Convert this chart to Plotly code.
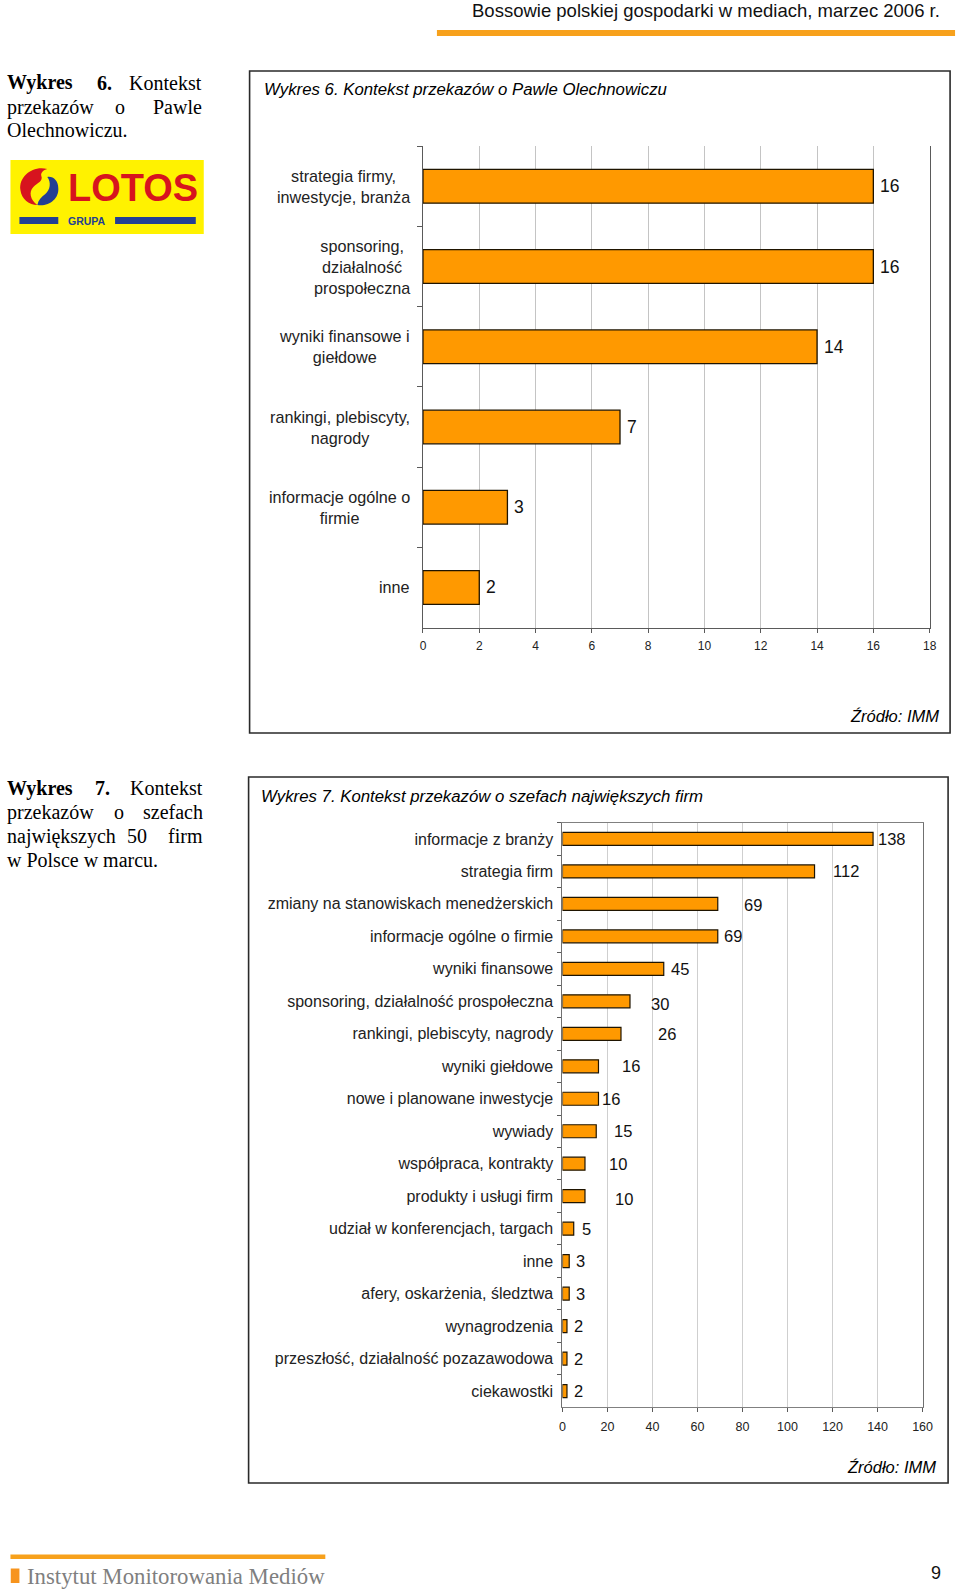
import plotly.graph_objects as go

W, H = 960, 1593


def X(px):
    # small horizontal calibration so that page positions match the reference
    return (px + 3 + 0.0101 * (px - 249)) / W


def Y(py):
    return 1 - py / H


def pt(x, y):
    return f"{X(x):.5f},{Y(y):.5f}"


# ---------------- data ----------------
cat1 = ["strategia firmy,<br>inwestycje, branża",
        "sponsoring,<br>działalność<br>prospołeczna",
        "wyniki finansowe i<br>giełdowe",
        "rankingi, plebiscyty,<br>nagrody",
        "informacje ogólne o<br>firmie",
        "inne"]
val1 = [16, 16, 14, 7, 3, 2]
x1_ticks = [0, 2, 4, 6, 8, 10, 12, 14, 16, 18]

cat2 = ["informacje z branży",
        "strategia firm",
        "zmiany na stanowiskach menedżerskich",
        "informacje ogólne o firmie",
        "wyniki finansowe",
        "sponsoring, działalność prospołeczna",
        "rankingi, plebiscyty, nagrody",
        "wyniki giełdowe",
        "nowe i planowane inwestycje",
        "wywiady",
        "współpraca, kontrakty",
        "produkty i usługi firm",
        "udział w konferencjach, targach",
        "inne",
        "afery, oskarżenia, śledztwa",
        "wynagrodzenia",
        "przeszłość, działalność pozazawodowa",
        "ciekawostki"]
val2 = [138, 112, 69, 69, 45, 30, 26, 16, 16, 15, 10, 10, 5, 3, 3, 2, 2, 2]
x2_ticks = [0, 20, 40, 60, 80, 100, 120, 140, 160]
# label offsets (pixels) mimicking the original placement of data labels
lbl_dx2 = [3, 16, 24, 4, 5, 19, 35, 22, 2, 16, 22, 28, 6, 5, 5, 5, 5, 5]
lbl_dy2 = [0, 0, -1, 0, 0, -3, 0, 0, 0, 0, 0, -3, 0, 0, 0, 0, 0, 0]

# ---------------- styles ----------------
SANS = "Liberation Sans, Arial, sans-serif"
SERIF = "Liberation Serif, Times New Roman, serif"
ORANGE = "#FF9900"
EDGE = "#1f1400"
LINE_OR = "#F7A11C"
AXC = "#5a5a5a"

fig = go.Figure()
fig.add_trace(go.Bar(x=val1, y=cat1, orientation="h", width=0.42,
                     marker=dict(color=ORANGE, line=dict(color=EDGE, width=1.3)),
                     xaxis="x", yaxis="y", hoverinfo="skip", showlegend=False))
fig.add_trace(go.Bar(x=val2, y=cat2, orientation="h", width=0.40,
                     marker=dict(color=ORANGE, line=dict(color=EDGE, width=1.2)),
                     xaxis="x2", yaxis="y2", hoverinfo="skip", showlegend=False))

ann = []


def T(text, x, y, size, xanchor="left", family=SANS, color="#000", yanchor="middle", align="left"):
    ann.append(dict(text=text, x=X(x), y=Y(y), xref="paper", yref="paper",
                    xanchor=xanchor, yanchor=yanchor, align=align, showarrow=False,
                    font=dict(family=family, size=size, color=color)))


# header
T("Bossowie polskiej gospodarki w mediach, marzec 2006 r.", 942, 11, 18.5, xanchor="right", color="#111")

# left descriptions (justified look)
LX = 1.5
T("<b>Wykres</b>", LX, 83, 20, family=SERIF)
T("<b>6.</b>", 101, 83, 20, xanchor="center", family=SERIF)
T("Kontekst", 201, 83, 20, xanchor="right", family=SERIF)
T("przekazów", LX, 107, 20, family=SERIF)
T("o", 117, 107, 20, xanchor="center", family=SERIF)
T("Pawle", 201, 107, 20, xanchor="right", family=SERIF)
T("Olechnowiczu.", LX, 130, 20, family=SERIF)

T("<b>Wykres</b>", LX, 788, 20, family=SERIF)
T("<b>7.</b>", 99, 788, 20, xanchor="center", family=SERIF)
T("Kontekst", 202, 788, 20, xanchor="right", family=SERIF)
T("przekazów", LX, 812, 20, family=SERIF)
T("o", 116, 812, 20, xanchor="center", family=SERIF)
T("szefach", 202, 812, 20, xanchor="right", family=SERIF)
T("największych", LX, 836, 20, family=SERIF)
T("50", 134, 836, 20, xanchor="center", family=SERIF)
T("firm", 202, 836, 20, xanchor="right", family=SERIF)
T("w Polsce w marcu.", LX, 860, 20, family=SERIF)

# chart titles and sources
T("<i>Wykres 6. Kontekst przekazów o Pawle Olechnowiczu</i>", 259, 89, 16.8)
T("<i>Źródło: IMM</i>", 941, 716, 16.5, xanchor="right")
T("<i>Wykres 7. Kontekst przekazów o szefach największych firm</i>", 256, 796, 16.8)
T("<i>Źródło: IMM</i>", 938, 1467, 16.5, xanchor="right")

# logo text
T("<b>LOTOS</b>", 130, 188, 38, xanchor="center", family=SANS, color="#D7141E")
T("<b>GRUPA</b>", 84, 221, 10.5, xanchor="center", family=SANS, color="#233F94")

# footer
T("Instytut Monitorowania Mediów", 22, 1576, 22.8, family=SERIF, color="#7f7f7f")
T("9", 943, 1573, 18, xanchor="right", color="#111")

# chart 1 category labels (centered multi-line blocks)
for c in cat1:
    ann.append(dict(text=c, x=X(410), xref="paper", y=c, yref="y", xanchor="right",
                    yanchor="middle", align="center", showarrow=False,
                    font=dict(family=SANS, size=16.2, color="#222")))
# chart 1 values
for c, v in zip(cat1, val1):
    ann.append(dict(text=str(v), x=v, y=c, xref="x", yref="y", xanchor="left",
                    yanchor="middle", xshift=5, showarrow=False,
                    font=dict(family=SANS, size=17.5, color="#111")))
# chart 2 values
for c, v, dx, dy in zip(cat2, val2, lbl_dx2, lbl_dy2):
    ann.append(dict(text=str(v), x=v, y=c, xref="x2", yref="y2", xanchor="left",
                    yanchor="middle", xshift=dx, yshift=dy, showarrow=False,
                    font=dict(family=SANS, size=16.5, color="#111")))

shapes = []


def R(x0, y0, x1, y1, fill=None, line=None, lw=0):
    shapes.append(dict(type="rect", xref="paper", yref="paper", x0=X(x0), x1=X(x1), y0=Y(y1), y1=Y(y0),
                       fillcolor=fill if fill else "rgba(0,0,0,0)",
                       line=dict(color=line if line else "rgba(0,0,0,0)", width=lw), layer="below"))


# header orange line
R(435, 30, 955, 36, fill=LINE_OR)
# boxes
R(247, 71, 950, 733, line="#2a2a2a", lw=1.6)
R(246, 777, 948, 1483, line="#2a2a2a", lw=1.6)
# logo
R(7, 160, 201, 234, fill="#FFF200")
R(16, 217, 55, 224, fill="#233F94")
R(112, 217, 193, 224, fill="#233F94")
red_path = (f"M {pt(44,169)} C {pt(30,165)} {pt(15,176)} {pt(17,190)} "
            f"C {pt(18,199)} {pt(26,205)} {pt(34,205)} C {pt(27,200)} {pt(25,192)} {pt(30,187)} "
            f"C {pt(34,183)} {pt(40,181)} {pt(38,176)} C {pt(37,173)} {pt(40,170)} {pt(44,169)} Z")
blue_path = (f"M {pt(34,205)} C {pt(45,207)} {pt(56,199)} {pt(55,188)} "
             f"C {pt(55,181)} {pt(50,176)} {pt(44,177)} C {pt(48,182)} {pt(47,190)} {pt(42,194)} "
             f"C {pt(38,197)} {pt(35,200)} {pt(34,205)} Z")
shapes.append(dict(type="path", xref="paper", yref="paper", path=red_path,
                   fillcolor="#D7141E", line=dict(width=0)))
shapes.append(dict(type="path", xref="paper", yref="paper", path=blue_path,
                   fillcolor="#233F94", line=dict(width=0)))
# footer
R(7, 1554.5, 323, 1559, fill=LINE_OR)
R(7.3, 1568.5, 16, 1583, fill="#F7941D")

fig.update_layout(
    width=W, height=H, margin=dict(l=0, r=0, t=0, b=0),
    paper_bgcolor="white", plot_bgcolor="white",
    showlegend=False,
    annotations=ann, shapes=shapes,
    xaxis=dict(domain=[X(421), X(929.5)], range=[0, 18], tickvals=x1_ticks,
               showgrid=True, gridcolor="#c4c4c4", gridwidth=1, zeroline=False,
               showline=True, linecolor=AXC, linewidth=1.2,
               ticks="outside", ticklen=4, tickcolor=AXC, ticklabelstandoff=3,
               tickfont=dict(family=SANS, size=12, color="#222"), anchor="y", fixedrange=True),
    yaxis=dict(domain=[Y(627.6), Y(146.2)], type="category", autorange="reversed",
               showticklabels=False, ticks="outside", tickson="boundaries", ticklen=5,
               tickcolor=AXC, showline=True, linecolor=AXC, linewidth=1.2, mirror=True,
               showgrid=False, zeroline=False, anchor="x", fixedrange=True),
    xaxis2=dict(domain=[X(561), X(922.4)], range=[0, 160], tickvals=x2_ticks,
                showgrid=True, gridcolor="#cfcfcf", gridwidth=1, zeroline=False,
                showline=True, linecolor="#808080", linewidth=1.2, mirror=True,
                ticks="outside", ticklen=4, tickcolor=AXC, ticklabelstandoff=4,
                tickfont=dict(family=SANS, size=12.5, color="#222"), anchor="y2", fixedrange=True),
    yaxis2=dict(domain=[Y(1407.3), Y(822.7)], type="category", autorange="reversed",
                showticklabels=True, ticks="outside", tickson="boundaries", ticklen=4,
                tickcolor=AXC, showline=True, linecolor="#707070", linewidth=1.2, mirror=True,
                ticklabelstandoff=5,
                tickfont=dict(family=SANS, size=16, color="#222"),
                showgrid=False, zeroline=False, anchor="x2", fixedrange=True),
)

# remove the default page margin so the figure starts at the page corner
fig.write_html("out.html", config={"displayModeBar": False},
               post_script="document.body.style.margin='0px';document.body.style.overflow='hidden';")
